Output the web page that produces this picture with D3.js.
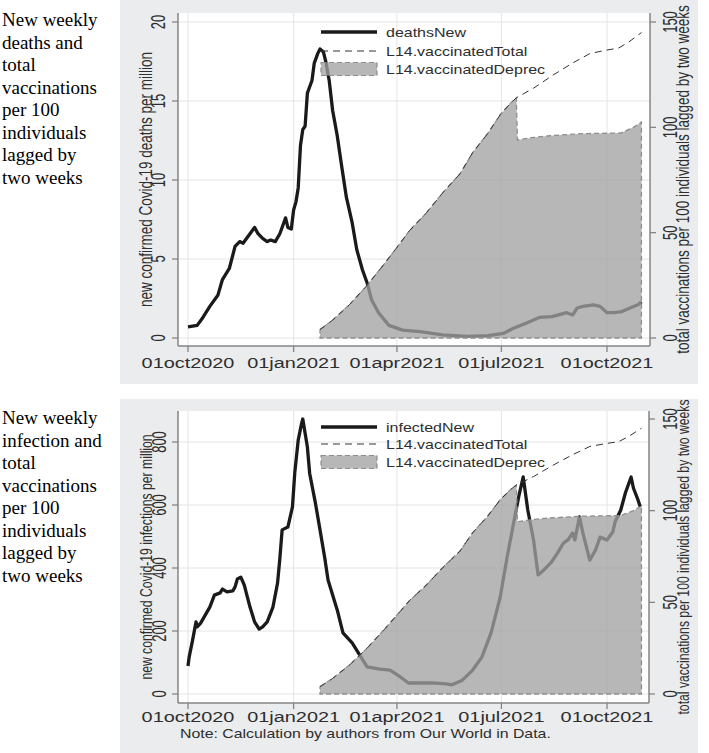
<!DOCTYPE html>
<html><head><meta charset="utf-8">
<script src="https://cdn.jsdelivr.net/npm/d3@7"></script>
<style>html,body{margin:0;padding:0;background:#fff;} svg{display:block;}</style>
</head><body>
<svg id="c" width="709" height="753"></svg>
<script>
// ---------------- DATA ----------------
const deathsNew = [
 ["2020-10-01",0.70],["2020-10-05",0.75],["2020-10-09",0.80],["2020-10-14",1.3],["2020-10-20",2.0],
 ["2020-10-27",2.7],["2020-10-31",3.7],["2020-11-06",4.4],["2020-11-11",5.8],["2020-11-15",6.1],
 ["2020-11-18",6.0],["2020-11-20",6.2],["2020-11-24",6.6],["2020-11-28",7.0],["2020-12-01",6.6],
 ["2020-12-05",6.3],["2020-12-09",6.1],["2020-12-12",6.2],["2020-12-16",6.1],["2020-12-20",6.6],
 ["2020-12-23",7.2],["2020-12-25",7.6],["2020-12-27",7.0],["2020-12-30",6.9],["2021-01-01",8.1],
 ["2021-01-03",8.6],["2021-01-05",9.5],["2021-01-07",12.2],["2021-01-09",13.2],["2021-01-11",13.4],
 ["2021-01-13",15.5],["2021-01-15",15.9],["2021-01-17",16.3],["2021-01-19",17.4],["2021-01-22",18.0],
 ["2021-01-24",18.3],["2021-01-27",18.1],["2021-01-29",17.5],["2021-02-01",16.3],["2021-02-04",14.4],
 ["2021-02-08",12.8],["2021-02-12",10.8],["2021-02-16",8.9],["2021-02-21",7.3],["2021-02-25",5.6],
 ["2021-03-02",4.3],["2021-03-06",3.5],["2021-03-10",2.4],["2021-03-16",1.6],["2021-03-25",0.8],
 ["2021-04-06",0.5],["2021-04-21",0.4],["2021-05-11",0.2],["2021-06-01",0.1],["2021-06-19",0.15],
 ["2021-07-03",0.3],["2021-07-11",0.6],["2021-07-23",0.95],["2021-08-03",1.3],["2021-08-14",1.35],
 ["2021-08-27",1.6],["2021-09-01",1.45],["2021-09-05",1.9],["2021-09-10",2.0],["2021-09-19",2.1],
 ["2021-09-25",2.0],["2021-10-01",1.6],["2021-10-07",1.6],["2021-10-13",1.65],["2021-10-21",1.9],
 ["2021-10-28",2.1],["2021-10-31",2.3]
];
const infectedNew = [
 ["2020-10-01",89],["2020-10-02",117],["2020-10-05",171],["2020-10-08",229],["2020-10-09",213],
 ["2020-10-12",225],["2020-10-15",244],["2020-10-20",276],["2020-10-24",314],["2020-10-29",321],
 ["2020-10-31",333],["2020-11-04",324],["2020-11-09",327],["2020-11-11",340],["2020-11-13",365],
 ["2020-11-16",371],["2020-11-19",346],["2020-11-24",276],["2020-11-28",229],["2020-12-02",206],
 ["2020-12-05",213],["2020-12-09",229],["2020-12-14",276],["2020-12-18",352],["2020-12-20",430],
 ["2020-12-22",521],["2020-12-27",530],["2020-12-31",594],["2021-01-02",702],["2021-01-05",806],
 ["2021-01-08",860],["2021-01-09",873],["2021-01-13",784],["2021-01-15",700],["2021-01-20",606],
 ["2021-01-24",521],["2021-01-28",435],["2021-01-31",362],["2021-02-08",267],["2021-02-13",194],
 ["2021-02-21",162],["2021-02-26",133],["2021-03-06",86],["2021-03-17",79],["2021-03-26",76],
 ["2021-04-04",54],["2021-04-11",35],["2021-04-21",35],["2021-05-02",35],["2021-05-14",32],
 ["2021-05-19",29],["2021-05-28",44],["2021-06-06",76],["2021-06-14",117],["2021-06-22",194],
 ["2021-06-30",308],["2021-07-06",435],["2021-07-11",530],["2021-07-16",625],["2021-07-20",689],
 ["2021-07-24",584],["2021-07-29",489],["2021-08-02",378],["2021-08-07",394],["2021-08-13",416],
 ["2021-08-19",448],["2021-08-24",479],["2021-08-28",489],["2021-09-01",511],["2021-09-03",489],
 ["2021-09-07",562],["2021-09-10",511],["2021-09-16",425],["2021-09-21",457],["2021-09-25",498],
 ["2021-10-01",489],["2021-10-06",514],["2021-10-08",546],["2021-10-13",584],["2021-10-17",638],
 ["2021-10-22",689],["2021-10-24",654],["2021-10-28",616],["2021-10-30",594]
];
const vaccinatedTotal = [
 ["2021-01-24",4],["2021-02-04",8.5],["2021-02-19",16],["2021-03-06",25],["2021-03-20",34.5],
 ["2021-04-01",43],["2021-04-12",51],["2021-04-26",59],["2021-05-11",69],["2021-05-26",78],
 ["2021-06-06",88],["2021-06-19",97],["2021-06-30",106],["2021-07-09",111.5],["2021-07-14",114],
 ["2021-07-29",118.6],["2021-08-15",124.8],["2021-09-01",130.5],["2021-09-16",135],["2021-10-01",136.7],
 ["2021-10-11",137.6],["2021-10-20",140.5],["2021-10-31",145]
];
const vaccinatedDeprec = [
 ["2021-01-24",4],["2021-02-04",8.5],["2021-02-19",16],["2021-03-06",25],["2021-03-20",34.5],
 ["2021-04-01",43],["2021-04-12",51],["2021-04-26",59],["2021-05-11",69],["2021-05-26",78],
 ["2021-06-06",88],["2021-06-19",97],["2021-06-30",106],["2021-07-09",111.5],["2021-07-14",114],
 ["2021-07-15",94],["2021-07-29",95.2],["2021-08-12",96],["2021-09-10",97],["2021-10-13",97.3],
 ["2021-10-24",100],["2021-10-31",102.5]
];
const xTicks = ["2020-10-01","2021-01-01","2021-04-01","2021-07-01","2021-10-01"];
const deathsTicks = [0,5,10,15,20];
const infectedTicks = [0,200,400,600,800];
const vaccTicks = [0,50,100,150];
const captionTop = ["New weekly","deaths and","total","vaccinations","per 100","individuals","lagged by","two weeks"];
const captionBottom = ["New weekly","infection and","total","vaccinations","per 100","individuals","lagged by","two weeks"];
const legendTop = ["deathsNew","L14.vaccinatedTotal","L14.vaccinatedDeprec"];
const legendBottom = ["infectedNew","L14.vaccinatedTotal","L14.vaccinatedDeprec"];
const leftTitleTop = "new confirmed Covid-19 deaths per million";
const leftTitleBottom = "new confirmed Covid-19 infections per million";
const rightTitle = "total vaccinations per 100 individuals lagged by two weeks";
const noteText = "Note: Calculation by authors from Our World in Data.";

// ---------------- DRAW ----------------
const parse = d3.utcParse("%Y-%m-%d");
const fmt = d => d3.utcFormat("%d%b%Y")(d).toLowerCase();
const svg = d3.select("#c");
const SANS = "'Liberation Sans', Arial, Helvetica, sans-serif";
const SERIF = "'Liberation Serif', 'Times New Roman', serif";
const TXT = "#2e2e2e";
const FILL = "rgba(161,161,163,0.77)";

function label(g, s, x, y, o) {
  return g.append("text")
    .attr("transform", `translate(${x},${y}) scale(${o.sx || 1},1)` + (o.rot ? " rotate(-90)" : ""))
    .attr("text-anchor", o.anchor || "middle")
    .attr("font-family", o.family || SANS)
    .attr("font-size", o.size)
    .attr("fill", o.fill || TXT)
    .text(s);
}

const x = d3.scaleUtc().domain([parse("2020-10-01"), parse("2021-10-01")]).range([188, 607]);

function drawPanel(cfg) {
  const g = svg.append("g");
  const p = cfg.plot;
  g.append("rect").attr("x", 120).attr("y", cfg.bgY).attr("width", 578).attr("height", cfg.bgH).attr("fill", "#ebeced");
  g.append("rect").attr("x", p.l).attr("y", p.t).attr("width", p.r - p.l).attr("height", p.b - p.t).attr("fill", "#fff");

  const yL = d3.scaleLinear().domain(cfg.leftDomain).range(cfg.leftRange);
  const yR = d3.scaleLinear().domain([0, 150]).range(cfg.rightRange);

  g.selectAll(".hg").data(cfg.leftTicks).join("line")
    .attr("x1", p.l).attr("x2", p.r).attr("y1", d => yL(d)).attr("y2", d => yL(d))
    .attr("stroke", "#e4e4e4").attr("stroke-width", 1);
  g.selectAll(".vg").data(xTicks).join("line")
    .attr("x1", d => x(parse(d))).attr("x2", d => x(parse(d))).attr("y1", p.t).attr("y2", p.b)
    .attr("stroke", "#e4e4e4").attr("stroke-width", 1);

  const line = d3.line().x(d => x(parse(d[0]))).y(d => yL(d[1]));
  g.append("path").datum(cfg.cases).attr("d", line)
    .attr("fill", "none").attr("stroke", "#1a1a1a").attr("stroke-width", 3.3).attr("stroke-linejoin", "round");

  const area = d3.area().x(d => x(parse(d[0]))).y0(yR(0)).y1(d => yR(d[1]));
  g.append("path").datum(vaccinatedDeprec).attr("d", area)
    .attr("fill", FILL).attr("stroke", "#8e8e8e").attr("stroke-width", 1.3).attr("stroke-dasharray", "5,3");

  const lineR = d3.line().x(d => x(parse(d[0]))).y(d => yR(d[1]));
  g.append("path").datum(vaccinatedTotal).attr("d", lineR)
    .attr("fill", "none").attr("stroke", "#333").attr("stroke-width", 1).attr("stroke-dasharray", "7,5");

  const ax = "#858585";
  g.append("line").attr("x1", p.l).attr("x2", p.l).attr("y1", p.t).attr("y2", p.b).attr("stroke", ax).attr("stroke-width", 1.5);
  g.append("line").attr("x1", p.r).attr("x2", p.r).attr("y1", p.t).attr("y2", p.b).attr("stroke", ax).attr("stroke-width", 1.5);
  g.append("line").attr("x1", p.l).attr("x2", p.r).attr("y1", p.b).attr("y2", p.b).attr("stroke", ax).attr("stroke-width", 1.5);

  g.selectAll(".xt").data(xTicks).join("line")
    .attr("x1", d => x(parse(d))).attr("x2", d => x(parse(d))).attr("y1", p.b).attr("y2", p.b + 6)
    .attr("stroke", ax).attr("stroke-width", 1.3);
  xTicks.forEach(d => label(g, fmt(parse(d)), x(parse(d)), cfg.xLabelY, {size: 14, sx: 1.42}));

  g.selectAll(".lt").data(cfg.leftTicks).join("line")
    .attr("x1", p.l - 6).attr("x2", p.l).attr("y1", d => yL(d)).attr("y2", d => yL(d))
    .attr("stroke", ax).attr("stroke-width", 1.3);
  cfg.leftTicks.forEach(d => label(g, String(d), cfg.leftTickX, yL(d), {size: 13, sx: 1.55, rot: true}));

  g.selectAll(".rt").data(vaccTicks).join("line")
    .attr("x1", p.r).attr("x2", p.r + 6).attr("y1", d => yR(d)).attr("y2", d => yR(d))
    .attr("stroke", ax).attr("stroke-width", 1.3);
  vaccTicks.forEach(d => label(g, String(d), 677, yR(d), {size: 13, sx: 1.55, rot: true}));

  const cy = (p.t + p.b) / 2;
  label(g, cfg.leftTitle, 152, cy, {size: cfg.titleSize, sx: 1.42, rot: true});
  label(g, rightTitle, 689, cy, {size: cfg.titleSize, sx: 1.42, rot: true});

  const L = cfg.legendY;
  g.append("line").attr("x1", 321).attr("x2", 377).attr("y1", L[0]).attr("y2", L[0])
    .attr("stroke", "#1a1a1a").attr("stroke-width", 3.3);
  g.append("line").attr("x1", 321).attr("x2", 377).attr("y1", L[1]).attr("y2", L[1])
    .attr("stroke", "#333").attr("stroke-width", 1).attr("stroke-dasharray", "7,5");
  g.append("rect").attr("x", 321).attr("y", L[2] - 6.5).attr("width", 56).attr("height", 13)
    .attr("fill", FILL).attr("stroke", "#8e8e8e").attr("stroke-width", 1.2).attr("stroke-dasharray", "5,3");
  cfg.legend.forEach((s, i) => label(g, s, 386, L[i] + 4.5, {size: 12.6, sx: 1.27, anchor: "start"}));

  cfg.caption.forEach((s, i) => label(g, s, 2, cfg.captionY + i * 22.5,
    {size: 19, anchor: "start", family: SERIF, fill: "#000"}));
}

drawPanel({
  bgY: 0, bgH: 384,
  plot: {l: 178, r: 650, t: 13, b: 346},
  leftDomain: [0, 20], leftRange: [338, 22], rightRange: [338, 22],
  leftTicks: deathsTicks, cases: deathsNew,
  xLabelY: 368, leftTickX: 165, titleSize: 13.5,
  leftTitle: leftTitleTop, legend: legendTop, legendY: [32, 51, 69],
  caption: captionTop, captionY: 26
});
drawPanel({
  bgY: 399, bgH: 354,
  plot: {l: 178, r: 649, t: 411, b: 703},
  leftDomain: [0, 800], leftRange: [694, 442], rightRange: [694, 419],
  leftTicks: infectedTicks, cases: infectedNew,
  xLabelY: 722, leftTickX: 166, titleSize: 12.2,
  leftTitle: leftTitleBottom, legend: legendBottom, legendY: [427, 444, 462],
  caption: captionBottom, captionY: 424
});
label(svg, noteText, 180, 738, {size: 12.8, sx: 1.24, anchor: "start"});
</script>
</body></html>
